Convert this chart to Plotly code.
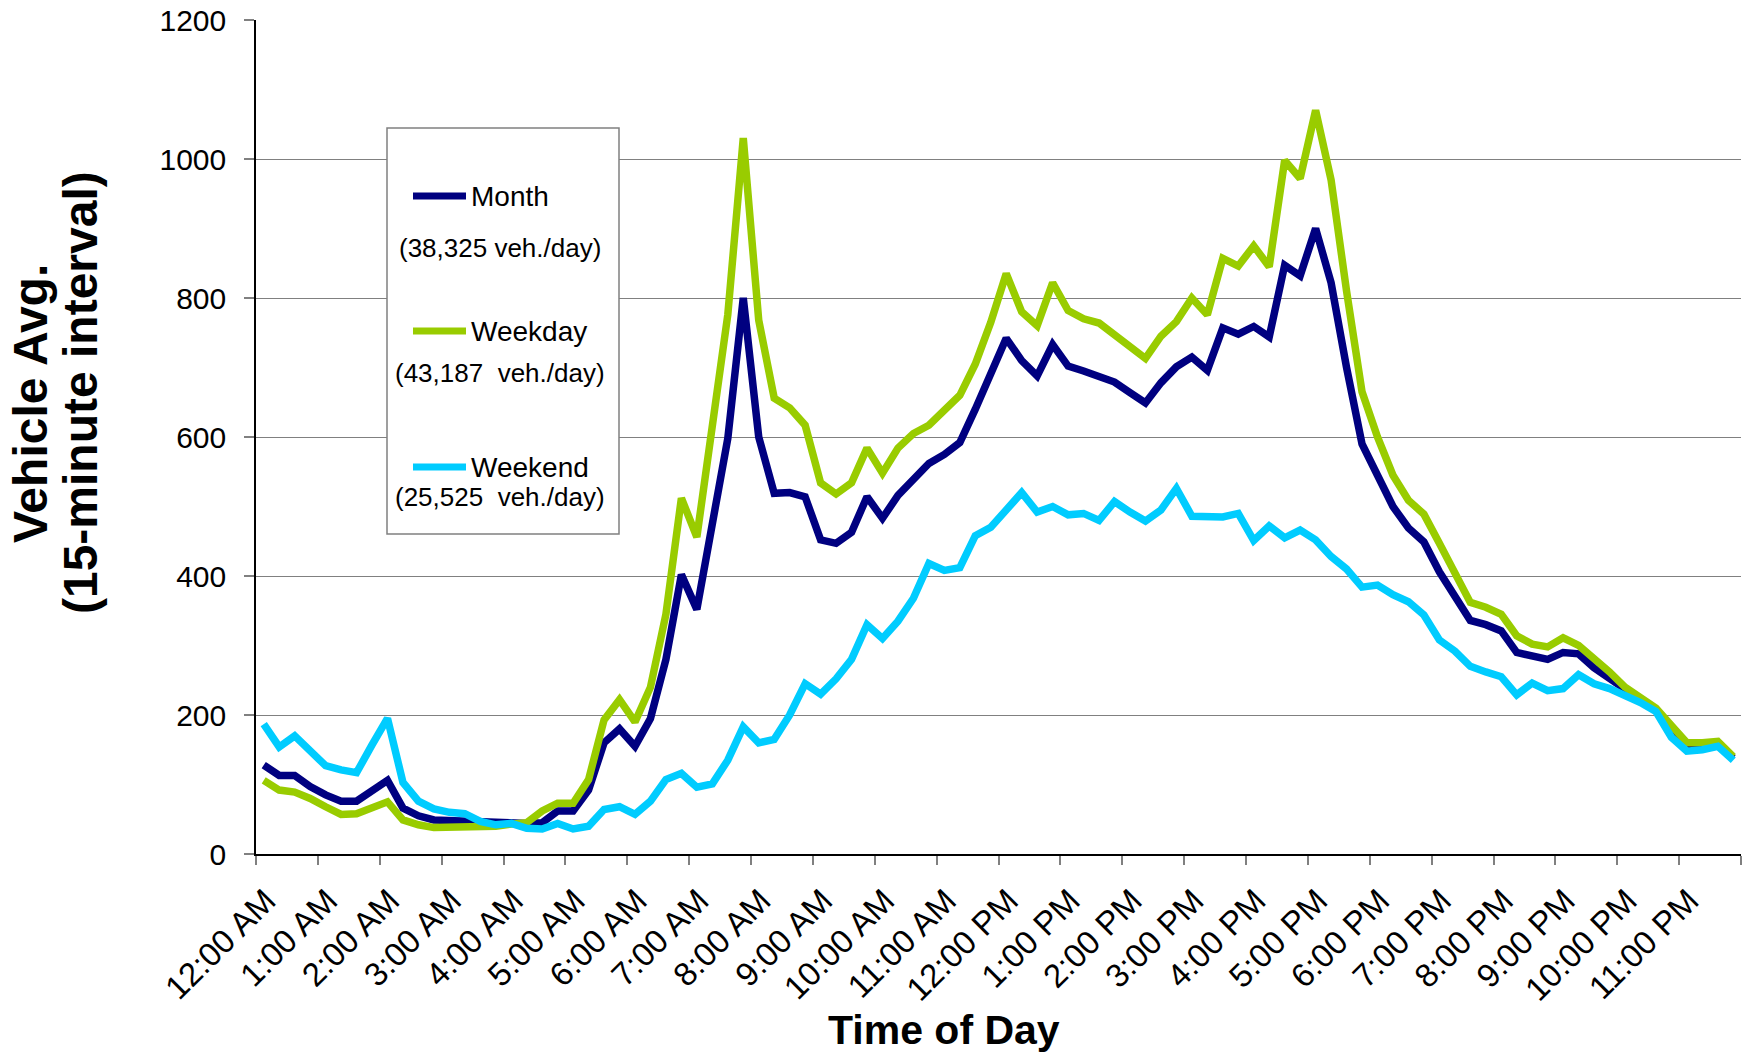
import plotly.graph_objects as go

# ---------------- data ----------------
hour_labels = ["12:00 AM", "1:00 AM", "2:00 AM", "3:00 AM", "4:00 AM", "5:00 AM",
               "6:00 AM", "7:00 AM", "8:00 AM", "9:00 AM", "10:00 AM", "11:00 AM",
               "12:00 PM", "1:00 PM", "2:00 PM", "3:00 PM", "4:00 PM", "5:00 PM",
               "6:00 PM", "7:00 PM", "8:00 PM", "9:00 PM", "10:00 PM", "11:00 PM"]

month = [128, 113, 113, 97, 85, 76, 76, 91, 106, 66,
         55, 49, 48, 48, 48, 46, 46, 44, 45, 62,
         62, 92, 160, 180, 155, 195, 280, 402, 352, 476,
         598, 800, 600, 519, 520, 514, 452, 447, 463, 514,
         483, 516, 540, 562, 575, 592, 640, 690, 742, 710,
         688, 733, 702, 695, 686, 679, 664, 649, 678, 701,
         715, 696, 757, 748, 759, 744, 847, 832, 900, 822,
         700, 590, 545, 500, 469, 449, 406, 370, 336, 330,
         321, 290, 285, 280, 290, 288, 268, 252, 235, 222,
         208, 180, 158, 155, 156, 138]

weekday = [106, 92, 89, 80, 68, 57, 58, 66, 75, 49,
           42, 38, 38, 38, 39, 40, 43, 45, 62, 73,
           73, 107, 193, 222, 190, 240, 345, 512, 456, 620,
           776, 1030, 768, 656, 642, 617, 534, 518, 534, 584,
           548, 584, 605, 617, 640, 660, 705, 765, 835, 780,
           760, 822, 782, 770, 764, 747, 729, 713, 745, 766,
           800, 776, 857, 846, 875, 845, 998, 972, 1070, 970,
           810, 665, 600, 545, 509, 489, 447, 404, 362, 355,
           345, 314, 302, 298, 311, 300, 282, 262, 240, 225,
           210, 185, 160, 160, 162, 140]

weekend = [187, 154, 170, 149, 127, 121, 117, 157, 195, 103,
           76, 65, 60, 58, 47, 42, 44, 37, 36, 44,
           36, 40, 64, 68, 57, 76, 107, 116, 96, 101,
           135, 183, 160, 165, 200, 245, 230, 252, 280, 330,
           310, 335, 368, 418, 408, 412, 458, 470, 495, 520,
           492, 500, 488, 490, 480, 507, 492, 479, 495, 526,
           486, 486, 485, 490, 451, 472, 455, 466, 452, 428,
           410, 384, 387, 373, 363, 344, 308, 292, 270, 262,
           255, 229, 246, 235, 238, 258, 245, 238, 228, 218,
           205, 168, 148, 150, 155, 135]

series_names = ["Month", "Weekday", "Weekend"]
series_totals = ["(38,325 veh./day)", "(43,187\u00a0\u00a0veh./day)", "(25,525\u00a0\u00a0veh./day)"]
series_colors = ["#000080", "#99CC00", "#00CCFF"]

# midpoint of each 15-minute interval, in hours
interval_mid_hours = [i * 0.25 + 0.125 for i in range(len(month))]

# ---------------- layout helpers ----------------
W, H = 1743, 1054
L, R, T, B = 256, 2, 20, 200
PW, PH = W - L - R, H - T - B


def px(x):
    return (x - L) / PW


def py(y):
    return (H - B - y) / PH


FONT = "Arial, Liberation Sans, sans-serif"

fig = go.Figure()
for name, vals, col in zip(series_names, [month, weekday, weekend], series_colors):
    fig.add_trace(go.Scatter(x=interval_mid_hours, y=vals, mode="lines", name=name,
                             line=dict(color=col, width=7.5), showlegend=False))

tickvals = list(range(0, 25))
ticktext = hour_labels + [""]

fig.update_layout(
    width=W, height=H,
    margin=dict(l=L, r=R, t=T, b=B, autoexpand=False),
    plot_bgcolor="white", paper_bgcolor="white",
    font=dict(family=FONT, color="black"),
    showlegend=False,
    xaxis=dict(range=[0, 24], tickmode="array", tickvals=tickvals, ticktext=ticktext,
               tickangle=-45, tickfont=dict(size=33, family=FONT, color="black"),
               ticks="outside", ticklen=9, tickcolor="#808080", tickwidth=1.5,
               ticklabelstandoff=3, ticklabelshift=10,
               showline=True, linecolor="black", linewidth=2,
               showgrid=False, zeroline=False, automargin=False),
    yaxis=dict(range=[0, 1200], tickmode="array", tickvals=list(range(0, 1201, 200)),
               tickfont=dict(size=30, family=FONT, color="black"),
               ticks="outside", ticklen=10, tickcolor="#808080", tickwidth=1.5,
               ticklabelstandoff=12,
               showline=True, linecolor="black", linewidth=1.5,
               showgrid=True, gridcolor="#808080", gridwidth=1.2,
               zeroline=False, automargin=False),
)

shapes = [dict(type="rect", xref="paper", yref="paper",
               x0=px(387), x1=px(619), y0=py(534), y1=py(128),
               line=dict(color="#808080", width=1.5), fillcolor="white", layer="above")]
annotations = []
legend_line_y = [196, 331, 467]
legend_sub_y = [248, 373, 497]
for name, tot, col, ly, sy in zip(series_names, series_totals, series_colors, legend_line_y, legend_sub_y):
    shapes.append(dict(type="line", xref="paper", yref="paper",
                       x0=px(413), x1=px(466), y0=py(ly), y1=py(ly),
                       line=dict(color=col, width=7), layer="above"))
    annotations.append(dict(text=name, xref="paper", yref="paper", x=px(469), y=py(ly),
                            xanchor="left", yanchor="middle", showarrow=False,
                            font=dict(size=28, family=FONT, color="black")))
    annotations.append(dict(text=tot, xref="paper", yref="paper", x=px(500), y=py(sy),
                            xanchor="center", yanchor="middle", showarrow=False,
                            font=dict(size=26, family=FONT, color="black")))

# axis titles
annotations.append(dict(text="<b>Vehicle Avg.</b>", xref="paper", yref="paper",
                        x=px(30), y=py(404), xanchor="center", yanchor="middle",
                        textangle=-90, showarrow=False,
                        font=dict(size=48, family=FONT, color="black")))
annotations.append(dict(text="<b>(15-minute interval)</b>", xref="paper", yref="paper",
                        x=px(80), y=py(393), xanchor="center", yanchor="middle",
                        textangle=-90, showarrow=False,
                        font=dict(size=48, family=FONT, color="black")))
annotations.append(dict(text="<b>Time of Day</b>", xref="paper", yref="paper",
                        x=px(944), y=py(1030), xanchor="center", yanchor="middle",
                        showarrow=False, font=dict(size=41, family=FONT, color="black")))

fig.update_layout(shapes=shapes, annotations=annotations)
fig.write_html("out.html", config={"displayModeBar": False},
               post_script="document.body.style.margin='0';document.body.style.overflow='hidden';")
